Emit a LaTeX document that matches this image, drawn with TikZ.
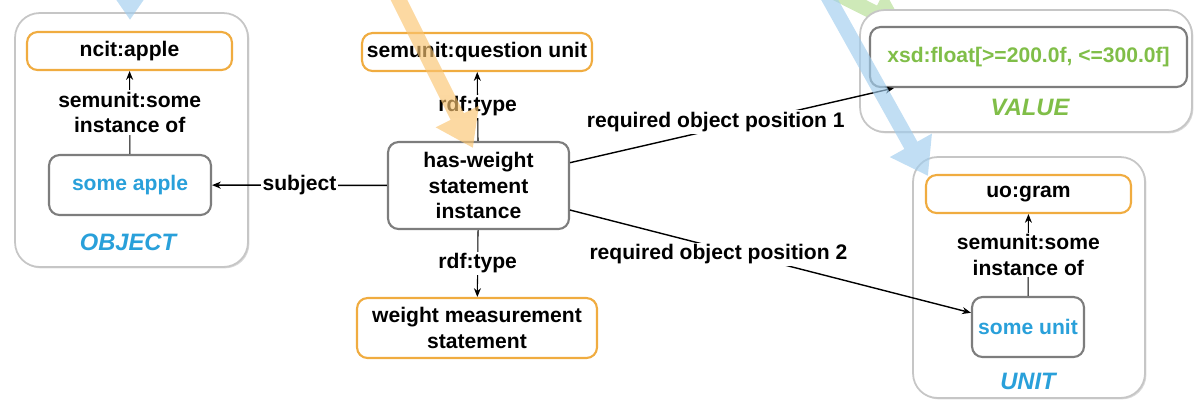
\documentclass[tikz,border=0pt]{standalone}
\usepackage{fontspec}
\setmainfont{Liberation Sans}
\usetikzlibrary{arrows.meta, shadows}
\definecolor{clsorange}{RGB}{240,172,64}
\definecolor{instgray}{RGB}{125,125,125}
\definecolor{objblue}{RGB}{41,160,218}
\definecolor{valgreen}{RGB}{128,190,72}
\definecolor{bigblue}{RGB}{160,205,238}
\definecolor{bigorange}{RGB}{250,196,112}
\definecolor{biggreen}{RGB}{190,226,160}
\begin{document}
\begin{tikzpicture}[x=0.02cm, y=-0.02cm, >={Stealth[length=5pt, width=4pt]},
		font=\fontsize{12}{14.5}\selectfont\bfseries,
		cls/.style={draw=clsorange, line width=1.2pt, rounded corners=6pt, fill=white, align=center, inner sep=0pt},
		inst/.style={draw=instgray, line width=1.2pt, rounded corners=6pt, fill=white, align=center, inner sep=0pt},
		grp/.style={draw=gray!45, line width=1pt, rounded corners=14pt, fill=white,
			drop shadow={shadow xshift=.8pt, shadow yshift=-.8pt, opacity=.3, fill=gray}},
		lbl/.style={fill=white, inner sep=1pt, align=center},
		tag/.style={font=\fontsize{13.5}{16}\selectfont\bfseries\itshape},
		big/.style={line width=8.5pt, -{Triangle[width=26pt, length=20pt]}}]
		\useasboundingbox (0,0) rectangle (1195,400);
		
		\begin{scope} [transparency group, opacity = .75]
		\clip (0,0) rectangle (1195,400);
		\draw [big, biggreen] (770,-40) -- (905,28);
		\end{scope}
		
		\node [grp, minimum width=4.66cm, minimum height=5.08cm] (objgrp) at (131.5, 140) {};
		\node [grp, minimum width=6.64cm, minimum height=2.44cm] (valgrp) at (1026, 71) {};
		\node [grp, minimum width=4.64cm, minimum height=4.82cm] (unitgrp) at (1029, 277.5) {};
		
		\node [cls, minimum width=4.1cm, minimum height=0.76cm] (apple) at (129.5, 51) {ncit:apple};
		\node [inst, minimum width=3.24cm, minimum height=1.2cm, text=objblue] (someapple) at (130, 185) {some apple};
		\node [tag, text=objblue] (objtag) at (128, 242) {OBJECT};
		
		\node [cls, minimum width=4.6cm, minimum height=0.76cm] (quest) at (477, 52) {semunit:question unit};
		\node [inst, minimum width=3.62cm, minimum height=1.74cm] (hasw) at (478.5, 185.5) {has-weight\\statement\\instance};
		\node [cls, minimum width=4.8cm, minimum height=1.2cm] (wms) at (477, 328) {weight measurement\\statement};
		
		\node [inst, minimum width=6.34cm, minimum height=1.2cm, text=valgreen] (xsd) at (1028.5, 57) {xsd:float[>=200.0f, <=300.0f]};
		\node [tag, text=valgreen] (valtag) at (1030, 107) {VALUE};
		
		\node [cls, minimum width=4.1cm, minimum height=0.76cm] (gram) at (1028.5, 194) {uo:gram};
		\node [inst, minimum width=2.24cm, minimum height=1.2cm, text=objblue] (someunit) at (1028, 327) {some unit};
		\node [tag, text=objblue] (unittag) at (1028, 381) {UNIT};
		
		\draw [->, line width=.6pt] (someapple) -- node [lbl] {semunit:some\\instance of} (apple);
		\draw [->, line width=.6pt] (someunit) -- node [lbl] {semunit:some\\instance of} (gram);
		\draw [->, line width=.6pt] (hasw) -- node [lbl] {rdf:type} (quest);
		\draw [->, line width=.6pt] (hasw) -- node [lbl] {rdf:type} (wms);
		\draw [->, line width=.8pt] (hasw) -- node [lbl] {subject} (someapple);
		\draw [->, line width=.8pt] (hasw.14) -- node [lbl, pos=.45, yshift=4pt] {required object position 1} (xsd.193);
		\draw [->, line width=.8pt] (hasw.-15) -- node [lbl, pos=.37, yshift=-3.5pt] {required object position 2} (someunit.166);
		
		\begin{scope} [transparency group, opacity = .65]
		\clip (0,0) rectangle (1195,400);
		\draw [big, bigblue] (130,-60) -- (130,20);
		\draw [big, bigorange] (384,-30) -- (473,148);
		\draw [big, bigblue] (813,-30) -- (928,176);
		\end{scope}
		
		\end{tikzpicture}
\end{document}
